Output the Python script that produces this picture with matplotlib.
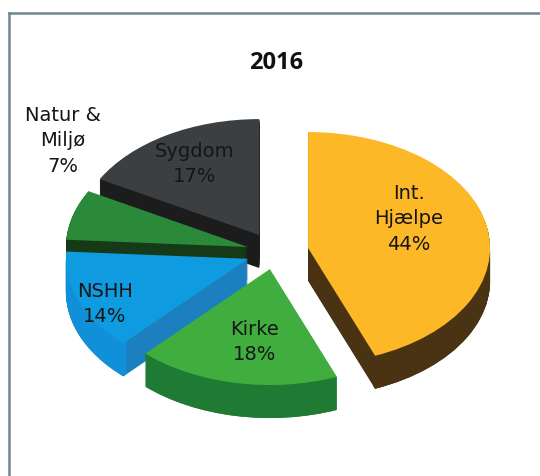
import matplotlib
matplotlib.use("Agg")
import matplotlib.pyplot as plt

# slices, clockwise from 12 o'clock
names = ["Int.\nHjælpe", "Kirke", "NSHH", "Natur &\nMiljø", "Sygdom"]
shares = [44, 18, 14, 7, 17]
explode = [0.185, 0.15, 0.16, 0.155, 0.17]

top_colors = ["#fdb827", "#3fae3f", "#0f9be0", "#2a8a3a", "#3b3f42"]
side_colors = ["#4a3312", "#1f7a33", "#1c7fc0", "#163a17", "#1c1c1c"]
rim_colors = ["#4a3312", "#1f7a33", "#1090d8", "#163a17", "#1c1c1c"]
# back to front
draw_rank = [4, 3, 2, 1, 0]

title = "2016"
label_pos = [(409, 219), (255, 342), (105, 304), (63, 141), (195, 164)]

W, H = 540, 477
SQUASH = 0.637
RADIUS = 182
DEPTH = 33
CX, CY = 275, 253


def draw_layer(ax, offset, colors, z, width=None):
    # pie takes explode in data units, not as a share of the radius
    wedges, _ = ax.pie(shares, explode=[e * RADIUS for e in explode], colors=colors,
                       radius=RADIUS, center=(CX, (H - CY - offset) / SQUASH),
                       startangle=90, counterclock=False,
                       wedgeprops={"linewidth": 0, "width": width})
    for i, w in enumerate(wedges):
        w.set_zorder(draw_rank[i] * 100 + z)


fig = plt.figure(figsize=(W / 100, H / 100), dpi=100, facecolor="white")

# grey frame only on the top and left
frame = fig.add_axes([9 / W, 0, 1, (H - 14) / H])
frame.set_xticks([])
frame.set_yticks([])
frame.spines["right"].set_visible(False)
frame.spines["bottom"].set_visible(False)
for s in ["left", "top"]:
    frame.spines[s].set_color("#6f8790")
    frame.spines[s].set_linewidth(1.8)

ax = fig.add_axes([0, 0, 1, 1])
ax.patch.set_alpha(0)
for k in range(DEPTH, 0, -1):
    draw_layer(ax, k, side_colors, 1)
# outer wall gets its own colour, a thin ring is enough since the top hides the rest
for k in range(DEPTH, 0, -1):
    draw_layer(ax, k, rim_colors, 2, width=RADIUS * 0.03)
draw_layer(ax, 0, top_colors, 50)
ax.set_aspect("auto")
ax.set_xlim(0, W)
ax.set_ylim(0, H / SQUASH)
ax.axis("off")

for name, share, (x, y) in zip(names, shares, label_pos):
    fig.text(x / W, 1 - y / H, f"{name}\n{share}%", ha="center", va="center",
             fontsize=14, color="#151515", linespacing=1.45, zorder=10)

fig.text(276 / W, 1 - 63 / H, title, ha="center", va="center", fontsize=17,
         fontweight="bold", family="Open Sans", color="#111111")

fig.savefig("out.png", dpi=100)
